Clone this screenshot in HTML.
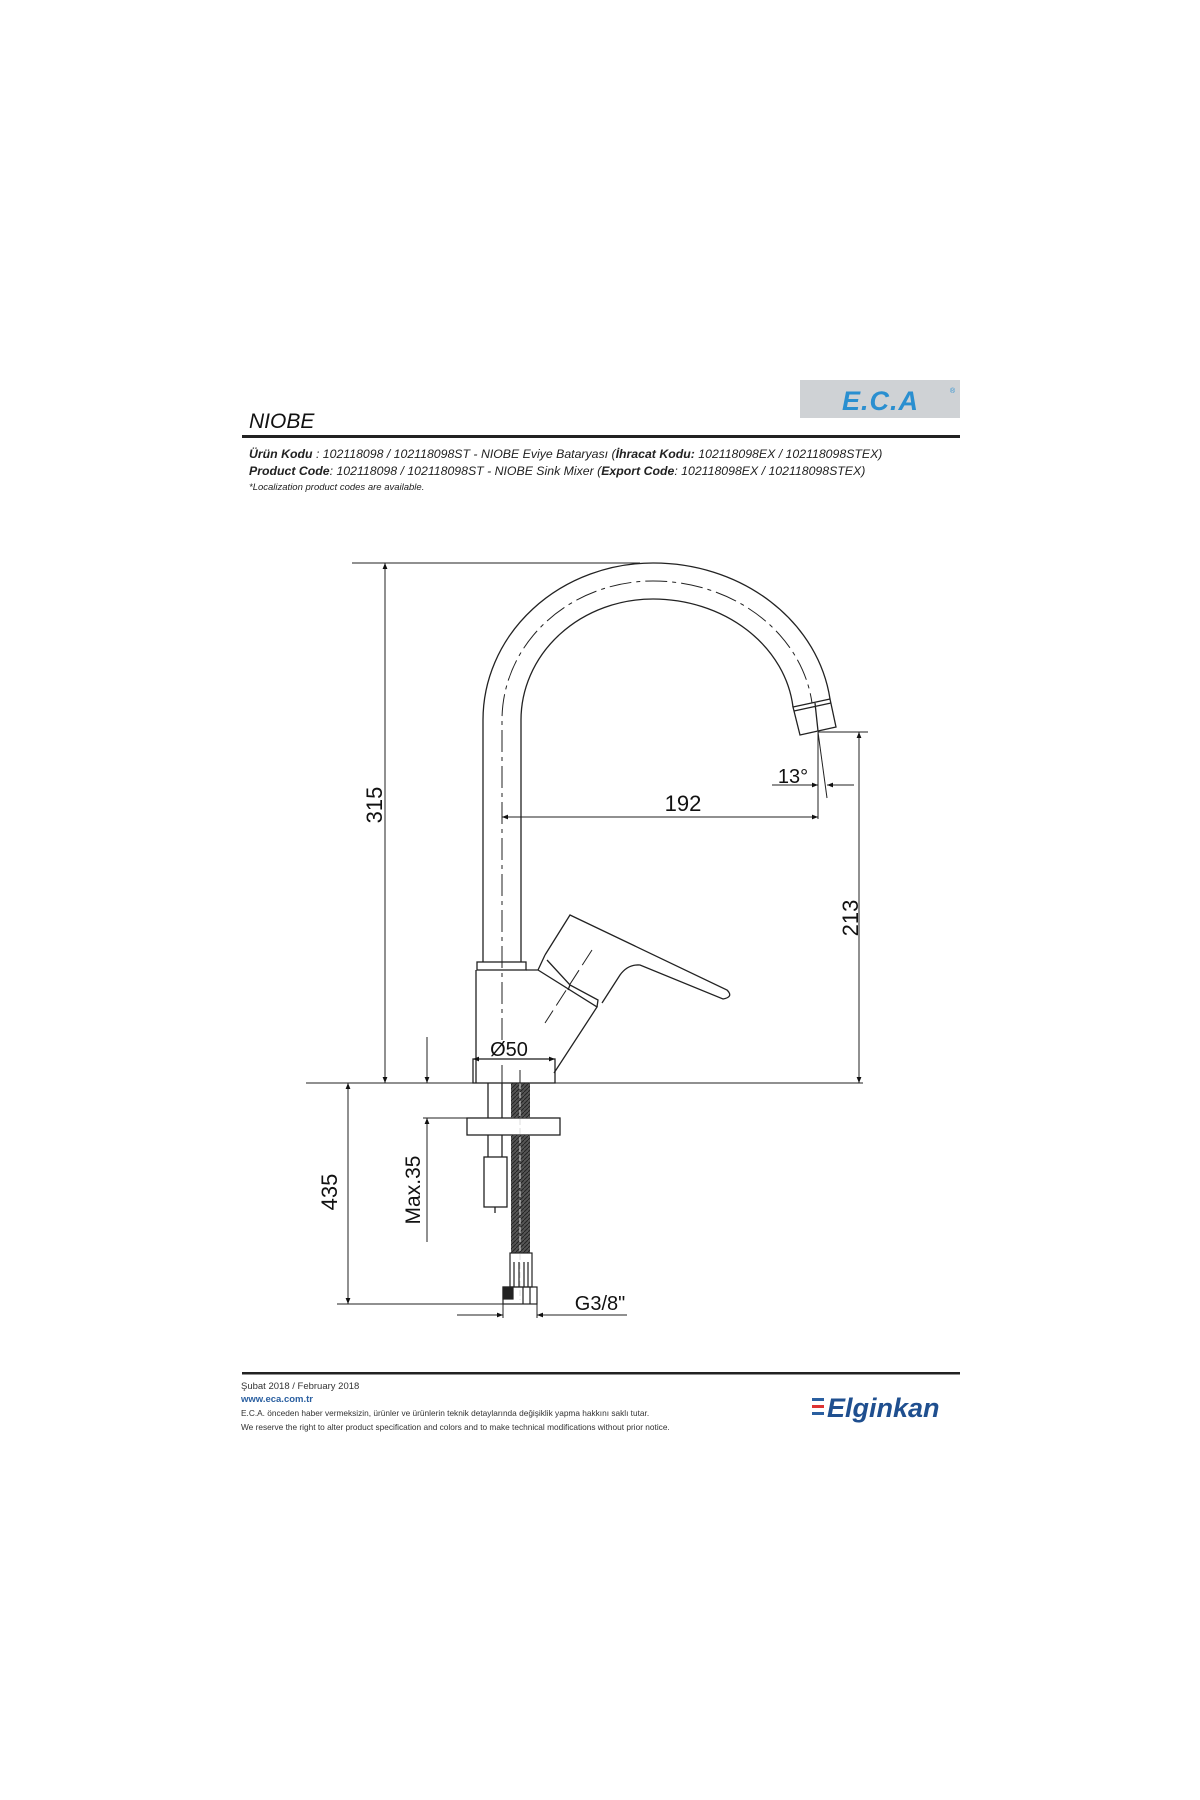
<!DOCTYPE html>
<html><head><meta charset="utf-8"><style>
body{margin:0;background:#fff;}
svg{display:block}
text{font-family:"Liberation Sans",sans-serif;}
</style></head><body>
<svg width="1200" height="1800" viewBox="0 0 1200 1800" xmlns="http://www.w3.org/2000/svg">
<defs>
<marker id="a" viewBox="0 0 10 10" refX="10" refY="5" markerWidth="14" markerHeight="6" markerUnits="userSpaceOnUse" orient="auto-start-reverse"><path d="M0,1 L10,5 L0,9 z" fill="#111"/></marker>
<pattern id="h" width="4" height="4" patternUnits="userSpaceOnUse"><rect width="4" height="4" fill="#555"/><path d="M0,4 L4,0" stroke="#222" stroke-width="1"/></pattern>
</defs>
<!-- header -->
<rect x="800" y="380" width="160" height="38" fill="#cfd2d5"/>
<text x="842" y="410" font-size="27" font-weight="bold" font-style="italic" fill="#2a8fd0" letter-spacing="1">E.C.A</text>
<text x="950" y="393" font-size="7" fill="#2a8fd0">®</text>
<text x="249" y="428" font-size="21" font-style="italic" fill="#111">NIOBE</text>
<rect x="242" y="435" width="718" height="3" fill="#222"/>
<g font-size="12.3" font-style="italic" fill="#222">
<text x="249" y="458"><tspan font-weight="bold">Ürün Kodu</tspan>     : 102118098 / 102118098ST - NIOBE Eviye Bataryası (<tspan font-weight="bold">İhracat Kodu:</tspan> 102118098EX / 102118098STEX)</text>
<text x="249" y="475"><tspan font-weight="bold">Product Code</tspan>: 102118098 / 102118098ST - NIOBE Sink Mixer (<tspan font-weight="bold">Export Code</tspan>: 102118098EX / 102118098STEX)</text>
<text x="249" y="490" font-size="9.5">*Localization product codes are available.</text>
</g>

<g stroke="#222" fill="none" stroke-width="1.3">
<!-- spout -->
<path d="M483,962 L483,720 A170,157 0 0 1 653,563 A178,157 0 0 1 830,699"/>
<path d="M521,962 L521,720 A132,121 0 0 1 653,599 A141,121 0 0 1 793,707"/>
<path d="M502,1040 L502,720 A151,139 0 0 1 653,581 A160,139 0 0 1 812,703" stroke-dasharray="22,5,4,5" stroke-width="1"/>
<path d="M793,707 L830,699 L836,727 L800,735 Z"/>
<path d="M794,711 L831,703 M815,703 L818,731"/>
<!-- cap & body -->
<rect x="477" y="962" width="49" height="8"/>
<path d="M476,970 L476,1083 M526,970 L538,970 L597,1007 L554,1073"/>
<rect x="473" y="1059" width="82" height="24"/>
<!-- handle -->
<path d="M545,955 L570,915 L727,990 Q734,997 723,999 L640,965 Q628,964 620,975 L602,1003"/>
<path d="M545,955 L538,970 M547,960 L570,985 L598,1000 L597,1007 M570,985 L568,990"/>
<path d="M592,950 L545,1023" stroke-dasharray="18,6" stroke-width="1"/>
<path d="M502,1065 L502,1083 M520,1070 L520,1083" stroke-width="1"/>
<!-- under deck -->
<path d="M488,1083 L488,1157 M502,1083 L502,1157"/>
<rect x="467" y="1118" width="93" height="17" fill="#fff"/>
<rect x="484" y="1157" width="23" height="50"/>
<path d="M495,1207 L495,1213"/>
</g>
<rect x="511" y="1083" width="19" height="35" fill="url(#h)"/>
<rect x="511" y="1135" width="19" height="118" fill="url(#h)"/>
<path d="M520,1083 L520,1300" stroke="#ddd" stroke-dasharray="6,3" stroke-width="1"/>
<g stroke="#222" fill="none" stroke-width="1.2">
<rect x="510" y="1253" width="22" height="34"/>
<path d="M514,1262 L514,1287 M519,1262 L519,1287 M524,1262 L524,1287 M528,1262 L528,1287"/>
<rect x="503" y="1287" width="34" height="17"/>
<rect x="503" y="1287" width="10" height="12" fill="#222"/>
<path d="M523,1287 L523,1304 M530,1287 L530,1304"/>
</g>

<!-- dimension lines -->
<g stroke="#222" stroke-width="1" fill="none">
<path d="M352,563 L640,563"/>
<path d="M306,1083 L863,1083"/>
<path d="M337,1304 L503,1304"/>
<path d="M385,563 L385,1083" marker-start="url(#a)" marker-end="url(#a)"/>
<path d="M859,732 L859,1083" marker-start="url(#a)" marker-end="url(#a)"/>
<path d="M818,732 L868,732"/>
<path d="M502,817 L818,817" marker-start="url(#a)" marker-end="url(#a)"/>
<path d="M818,732 L818,819"/>
<path d="M818,732 L827,798"/>
<path d="M772,785 L818,785" marker-end="url(#a)"/>
<path d="M854,785 L827,785" marker-end="url(#a)"/>
<path d="M473,1059 L555,1059" marker-start="url(#a)" marker-end="url(#a)"/>
<path d="M348,1083 L348,1304" marker-start="url(#a)" marker-end="url(#a)"/>
<path d="M427,1037 L427,1083" marker-end="url(#a)"/>
<path d="M427,1242 L427,1118" marker-end="url(#a)"/>
<path d="M423,1118 L467,1118"/>
<path d="M457,1315 L503,1315" marker-end="url(#a)"/>
<path d="M627,1315 L537,1315" marker-end="url(#a)"/>
<path d="M503,1304 L503,1318 M537,1304 L537,1318"/>
</g>
<g font-size="22" fill="#111">
<text x="683" y="811" text-anchor="middle">192</text>
<text x="793" y="783" text-anchor="middle" font-size="20">13°</text>
<text x="509" y="1056" text-anchor="middle" font-size="20">Ø50</text>
<text x="600" y="1310" text-anchor="middle" font-size="20">G3/8"</text>
<text transform="translate(382,805) rotate(-90)" text-anchor="middle">315</text>
<text transform="translate(858,918) rotate(-90)" text-anchor="middle">213</text>
<text transform="translate(337,1192) rotate(-90)" text-anchor="middle">435</text>
<text transform="translate(420,1190) rotate(-90)" text-anchor="middle" font-size="21">Max.35</text>
</g>

<!-- footer -->
<rect x="242" y="1372" width="718" height="2.5" fill="#222"/>
<g font-size="9.5" fill="#333">
<text x="241" y="1389">Şubat 2018 / February 2018</text>
<text x="241" y="1402" fill="#2a5fa0" font-weight="bold">www.eca.com.tr</text>
<text x="241" y="1416" font-size="8.3">E.C.A. önceden haber vermeksizin, ürünler ve ürünlerin teknik detaylarında değişiklik yapma hakkını saklı tutar.</text>
<text x="241" y="1430" font-size="8.3">We reserve the right to alter product specification and colors and to make technical modifications without prior notice.</text>
</g>
<rect x="812" y="1398" width="12" height="3" fill="#2a5fa0"/>
<rect x="812" y="1405" width="12" height="3" fill="#d33"/>
<rect x="812" y="1412" width="12" height="3" fill="#2a5fa0"/>
<text x="827" y="1417" font-size="27" font-style="italic" font-weight="bold" fill="#1f4f8f">Elginkan</text>
</svg>
</body></html>
